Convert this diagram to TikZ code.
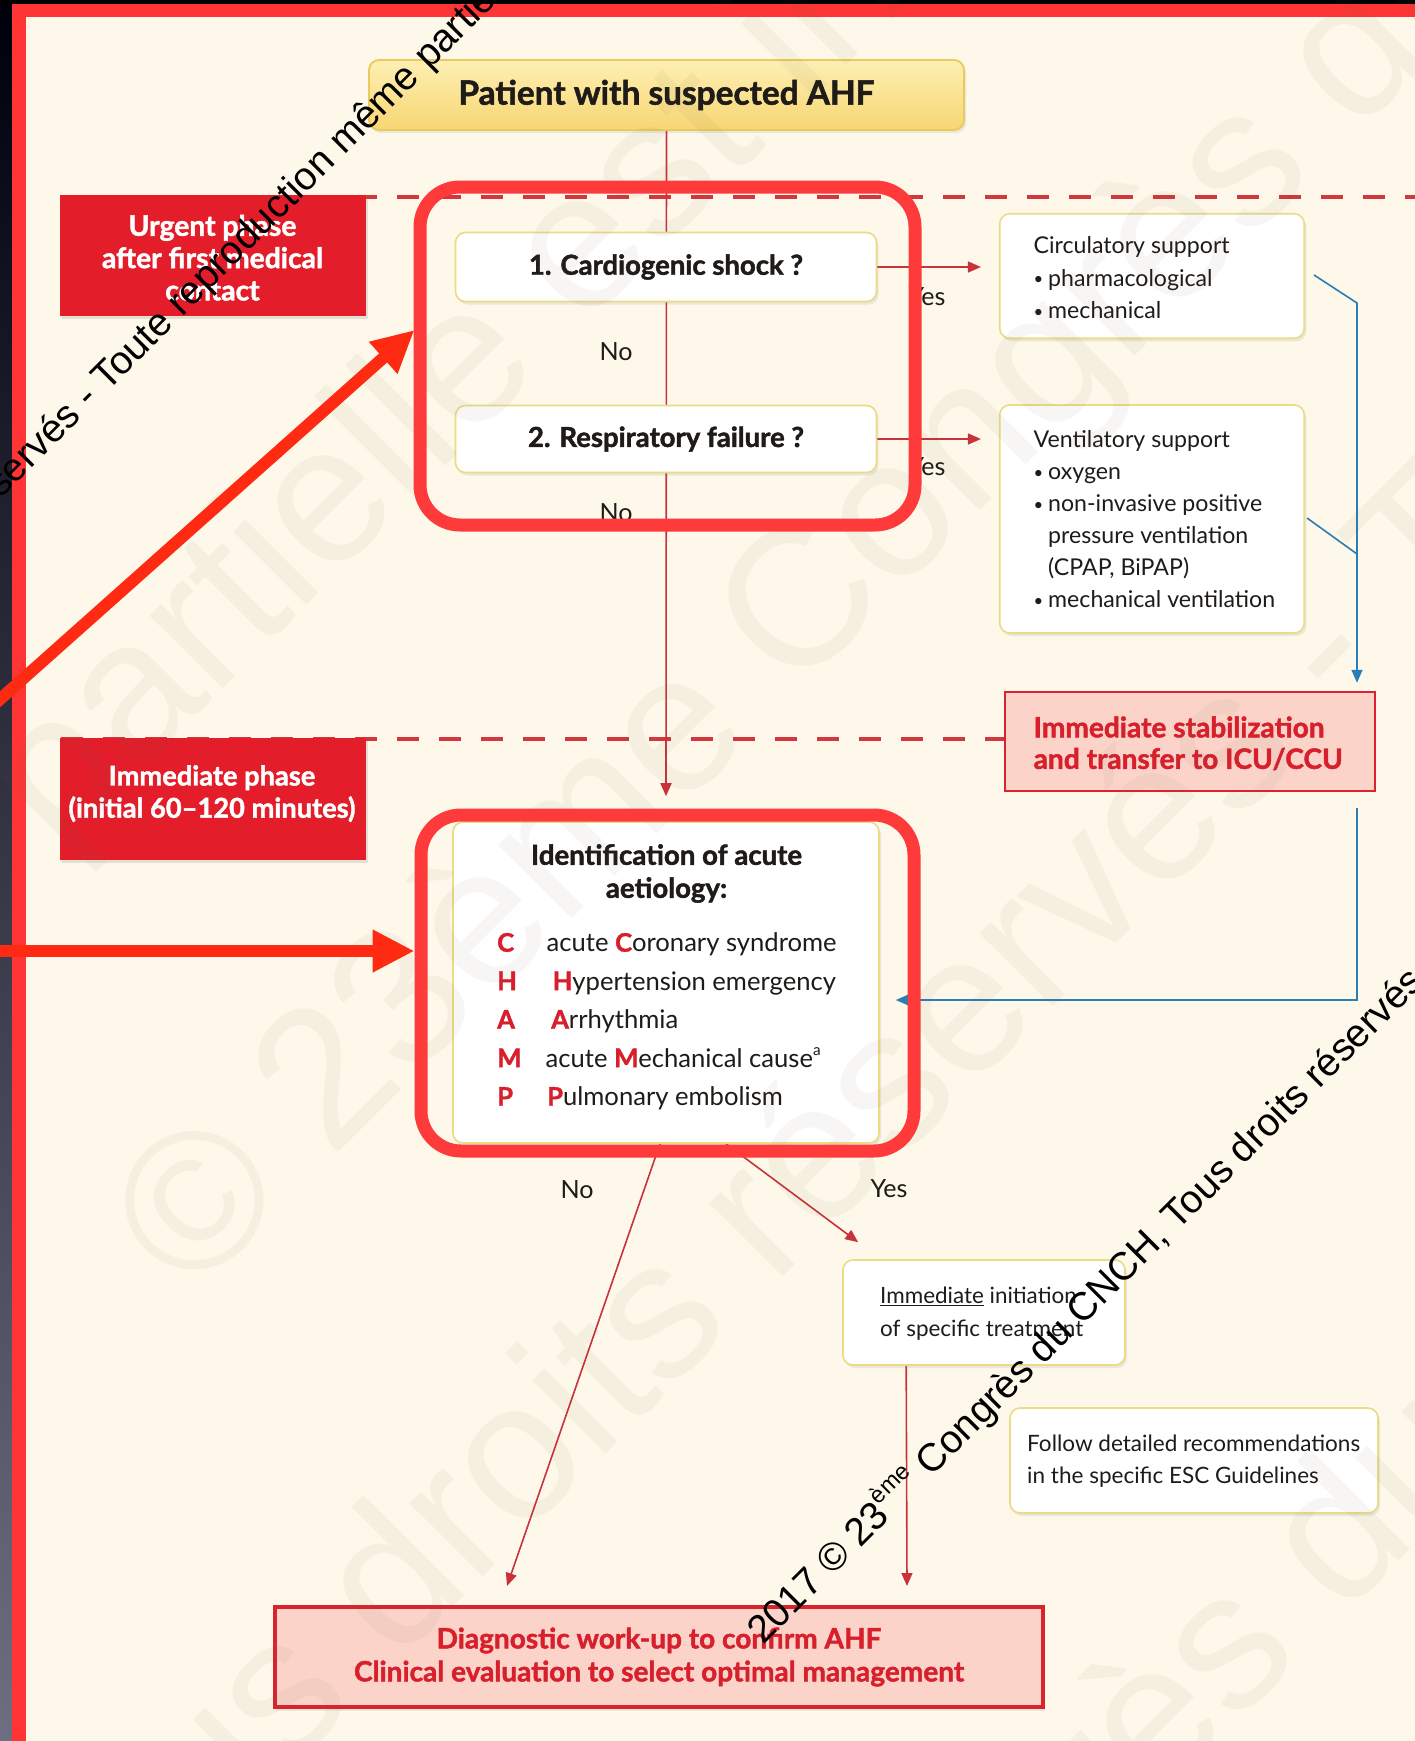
\documentclass[tikz,border=0pt]{standalone}
\usepackage{fontspec}
\usepackage{graphicx}
\setmainfont{Lato}[BoldFeatures={FakeBold=1.6}]
\newfontfamily\wmfont{Liberation Sans}
\usetikzlibrary{arrows.meta,shadows,calc}

\definecolor{cream}{HTML}{FDF8E9}
\definecolor{framered}{HTML}{FF3535}
\definecolor{dashred}{HTML}{D2363E}
\definecolor{lnred}{HTML}{C8323A}
\definecolor{lblred}{HTML}{E31E2A}
\definecolor{pinkfill}{HTML}{FBD3C9}
\definecolor{pinkbord}{HTML}{D9232E}
\definecolor{txtred}{HTML}{D81F2C}
\definecolor{ylwbord}{HTML}{EADB85}
\definecolor{bluecol}{HTML}{2B7DB5}
\definecolor{hlred}{HTML}{FF3A3A}
\definecolor{annotred}{HTML}{FF2A12}
\definecolor{ink}{HTML}{1E1B18}
\definecolor{topA}{HTML}{FDEFB3}
\definecolor{topB}{HTML}{F8D673}
\definecolor{topbord}{HTML}{EBC95C}
\definecolor{faintwm}{HTML}{786450}

\newsavebox\measbox
\newcommand\fitsize[3]{\sbox\measbox{\fontsize{10pt}{12pt}\selectfont #3}\pgfmathsetmacro#1{10*#2/\the\wd\measbox}}
\newcommand\fsz[2]{\fontsize{#1pt}{#2pt}\selectfont}
\newcommand\supr[1]{\raisebox{0.45em}{\scalebox{0.6}{#1}}}
\newcommand\bul{\makebox[14.5pt][l]{\raisebox{0.06em}{\scalebox{0.72}{\textbullet}}}}
\newcommand\rl[1]{\textcolor{txtred}{\bfseries #1}}
\newcommand\bigwmtext{© 23ème Congrès du CNCH, Tous droits réservés - Toute reproduction même partielle est interdite}
\newcommand\smallwmtext{2017 © 23\supr{ème} Congrès du CNCH, Tous droits réservés - Toute reproduction même partielle interdite}

\pgfdeclarelayer{bg}
\pgfdeclarelayer{conn}
\pgfsetlayers{bg,conn,main}

\tikzset{
  wbox/.style={draw=ylwbord, line width=1.6pt, fill=white, rounded corners=10pt,
    drop shadow={shadow xshift=2pt, shadow yshift=-3pt, opacity=0.15}},
  topbox/.style={draw=topbord, line width=1.8pt, top color=topA, bottom color=topB, rounded corners=10pt,
    drop shadow={shadow xshift=2pt, shadow yshift=-3pt, opacity=0.15}, text=ink},
  lblbox/.style={fill=lblred, drop shadow={shadow xshift=2pt, shadow yshift=-3pt, opacity=0.2}},
  pinkbox/.style={fill=pinkfill, draw=pinkbord, line width=2.5pt},
  diagbox/.style={fill=pinkfill, draw=pinkbord, line width=4pt, align=center, text=txtred,
    drop shadow={shadow xshift=2pt, shadow yshift=-4pt, opacity=0.15}},
  lbltext/.style={text=white, align=center, inner sep=0pt},
  btext/.style={anchor=west, align=left, inner sep=0pt, text=ink},
  ctext/.style={anchor=base west, inner sep=0pt, text=ink},
  lab/.style={inner sep=0pt, text=ink},
  redln/.style={draw=lnred, line width=1.6pt},
  redar/.style={redln, -{Triangle[length=13pt,width=11pt]}},
  blueln/.style={draw=bluecol, line width=1.6pt},
  bluear/.style={blueln, -{Triangle[length=13pt,width=11pt]}},
  hlframe/.style={draw=hlred, line width=13pt, rounded corners=40pt, inner sep=0pt},
  annot/.style={draw=annotred, line width=12pt, -{Triangle[length=42pt,width=40pt]}},
  dashln/.style={draw=dashred, line width=3.5pt, dash pattern=on 22pt off 20pt},
  wm/.style={anchor=base west, inner sep=0pt, rotate=45, text=black},
  bigwm/.style={anchor=base west, inner sep=0pt, rotate=45, text=faintwm, text opacity=0.055},
}

\begin{document}
\fitsize\szTitle{416}{\bfseries Patient with suspected AHF}%
\fitsize\szDec{276}{\bfseries 2. Respiratory failure ?}%
\fitsize\szPhase{221}{\bfseries after first medical}%
\fitsize\szPhaseB{287}{\bfseries (initial 60–120 minutes)}%
\fitsize\szSup{196}{Circulatory support}%
\fitsize\szStab{309}{\bfseries and transfer to ICU/CCU}%
\fitsize\szAet{271}{\bfseries Identification of acute}%
\fitsize\szChamp{290}{acute \textbf{C}oronary syndrome}%
\fitsize\szImm{203}{of specific treatment}%
\fitsize\szFol{333}{Follow detailed recommendations}%
\fitsize\szDiag{610}{\bfseries Clinical evaluation to select optimal management}%
\fitsize\szNo{37}{Yes}%
\fitsize\szWm{937}{\wmfont 2017 © 23\supr{ème} Congrès du CNCH, Tous droits réservés}%
\begin{tikzpicture}[x=1pt,y=-1pt]
\useasboundingbox (0,0) rectangle (1415,1741);
\clip (0,0) rectangle (1415,1741);

% ---------- background ----------
\begin{pgfonlayer}{bg}
  \fill[cream] (0,0) rectangle (1415,1741);
  \shade[top color=black!95!blue, middle color={rgb,255:red,38;green,38;blue,73}, bottom color={rgb,255:red,110;green,109;blue,130}] (0,0) rectangle (12,1741);
  \fill[framered] (12,4) rectangle (26,1741);
  \fill[framered] (12,4) rectangle (1415,17);
  \fill[black] (0,0) rectangle (1415,4);
  \draw[dashln] (61,197) -- (1415,197);
  \draw[dashln] (61,739) -- (1005,739);
\end{pgfonlayer}

% ---------- boxes ----------
\node[topbox, minimum width=595, minimum height=70] (top) at (666.5,95)
  {\fsz{\szTitle}{36}\bfseries Patient with suspected AHF};

\node[lblbox, minimum width=306, minimum height=121] (urg) at (212.5,255.5) {};
\node[lbltext, font=\fsz{\szPhase}{32.3}\bfseries] (urgt) at (212.5,257.7)
  {Urgent phase\\after first medical\\contact};
\node[lblbox, minimum width=306, minimum height=122] (imph) at (213,799) {};
\node[lbltext, font=\fsz{\szPhaseB}{32.2}\bfseries] (impht) at (212,793.6)
  {Immediate phase\\(initial 60–120 minutes)};

\node[wbox, minimum width=421, minimum height=69, text=ink] (dec1) at (666,267)
  {\fsz{\szDec}{30}\bfseries 1. Cardiogenic shock ?};
\node[wbox, minimum width=421, minimum height=67, text=ink] (dec2) at (666,439)
  {\fsz{\szDec}{30}\bfseries 2. Respiratory failure ?};

\node[wbox, minimum width=304.5, minimum height=124.5] (circ) at (1152,276) {};
\node[btext, font=\fsz{\szSup}{32.7}] (circt) at (1033.5,277.7)
  {Circulatory support\\\bul pharmacological\\\bul mechanical};

\node[wbox, minimum width=304.5, minimum height=228] (vent) at (1152,519) {};
\node[btext, font=\fsz{\szSup}{32}] (ventt) at (1033.5,519)
  {Ventilatory support\\\bul oxygen\\\bul non-invasive positive\\\hspace*{14.5pt}pressure ventilation\\\hspace*{14.5pt}(CPAP, BiPAP)\\\bul mechanical ventilation};

\node[pinkbox, minimum width=370, minimum height=99] (stab) at (1190,741.5) {};
\node[btext, text=txtred, font=\fsz{\szStab}{31.5}\bfseries] (stabt) at (1033.5,743.3)
  {Immediate stabilization\\and transfer to ICU/CCU};

\node[wbox, minimum width=426, minimum height=321] (champ) at (666,982.5) {};
\node[lab, align=center, font=\fsz{\szAet}{33}\bfseries] (aett) at (666.5,873.5)
  {Identification of acute\\aetiology:};
\begin{scope}[every node/.style={ctext, font=\fsz{\szChamp}{38}}]
  \node (lc) at (497,951.7) {\rl{C}};
  \node (lh) at (497,990.2) {\rl{H}};
  \node (la) at (497,1028.7) {\rl{A}};
  \node (lm) at (497,1067.2) {\rl{M}};
  \node (lp) at (497,1105.7) {\rl{P}};
  \node (tc) at (546.5,951.7) {acute \rl{C}oronary syndrome};
  \node (th) at (552.5,990.2) {\rl{H}ypertension emergency};
  \node (ta) at (551,1028.7) {\rl{A}rrhythmia};
  \node (tm) at (545.5,1067.2) {acute \rl{M}echanical cause\supr{a}};
  \node (tp) at (547,1105.7) {\rl{P}ulmonary embolism};
\end{scope}

\node[wbox, minimum width=282, minimum height=105] (imm) at (984,1312.5) {};
\node[btext, font=\fsz{\szImm}{33}] (immt) at (880,1313.5)
  {\underline{Immediate} initiation\\of specific treatment};

\node[wbox, minimum width=368, minimum height=105] (fol) at (1194,1460.5) {};
\node[btext, font=\fsz{\szFol}{32}] (folt) at (1027,1461)
  {Follow detailed recommendations\\in the specific ESC Guidelines};

\node[diagbox, minimum width=768, minimum height=100, font=\fsz{\szDiag}{33}\bfseries] (diag) at (659,1657)
  {Diagnostic work-up to confirm AHF\\Clinical evaluation to select optimal management};

% ---------- labels ----------
\begin{scope}[every node/.style={lab, font=\fsz{\szNo}{30}}]
  \node (no1) at (616,352) {No};
  \node (no2) at (616,513) {No};
  \node (yes1) at (927,297) {Yes};
  \node (yes2) at (927,467) {Yes};
  \node (no3) at (577,1190) {No};
  \node (yes3) at (889,1189) {Yes};
\end{scope}

% ---------- connectors ----------
\coordinate (bj1) at (1357,303);
\coordinate (bj2) at (1357,554);
\coordinate (bj3) at (1357,1000);
\begin{pgfonlayer}{conn}
  \draw[redar] (top.south) -- ($(champ.north)+(0,-25)$);
  \draw[redar, shorten >=18pt] (dec1.east) -- (dec1.east -| circ.west);
  \draw[redar, shorten >=18pt] (dec2.east) -- (dec2.east -| vent.west);
  \draw[bluear] ($(circ.east)+(9,-1)$) -- (bj1) -- ($(stab.north -| bj1)+(0,-8)$);
  \draw[blueln] ($(vent.east)+(2,-1)$) -- (bj2);
  \draw[bluear] ($(stab.south -| bj1)+(0,16)$) -- (bj3) -- ($(champ.east |- bj3)+(16,0)$);
  \draw[redar] ($(champ.south)+(-6,0)$) -- ($(diag.north)+(-152,-19)$);
  \draw[redar] ($(champ.south)+(60,0)$) -- ($(imm.north west)+(16,-17)$);
  \draw[redar] ($(imm.south west)+(64,0)$) -- ($(diag.north)+(248,-19)$);
\end{pgfonlayer}

% ---------- faint large watermark ----------
\begin{scope}[every node/.style={bigwm, font=\wmfont\fsz{196}{240}}]
  \node (bw0) at (-4749,5661) {\bigwmtext};
  \node (bw1) at (191,1300) {\bigwmtext};
  \node (bw2) at (-1770,3830) {\bigwmtext};
  \node (bw3) at (177,2783) {\bigwmtext};
\end{scope}

% ---------- highlight annotations ----------
\node[hlframe, minimum width=495, minimum height=338] (hl1) at (667.5,356) {};
\node[hlframe, minimum width=493, minimum height=336] (hl2) at (667.5,983) {};
\coordinate (a1) at (-30,726);
\coordinate (a2) at (-30,951);
\draw[annot] (a1) -- ($(hl1.west)+(1,-26)$);
\draw[annot] (a2) -- ($(hl2.west)+(0,-32)$);

% ---------- watermark ----------
\begin{scope}[every node/.style={wm, font=\wmfont\fsz{\szWm}{40}}]
  \node (wm1) at (763,1646) {\smallwmtext};
  \node (wm2) at (-580,1080) {\smallwmtext};
\end{scope}
\end{tikzpicture}
\end{document}
